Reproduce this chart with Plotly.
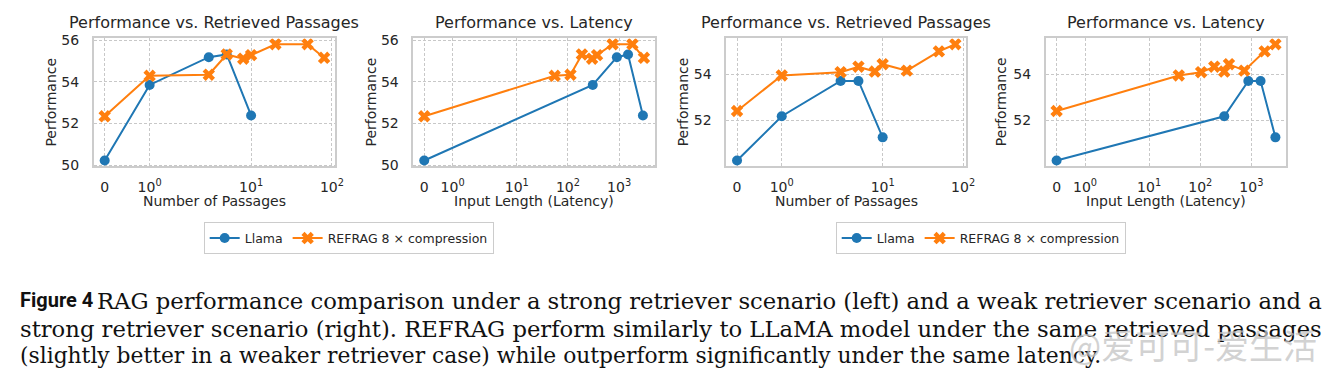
import math
import plotly.graph_objects as go

# ---------------- data ----------------
passages_llama = [0, 1, 3, 5, 10]
passages_refrag = [0, 1, 3, 5, 8, 10, 20, 50, 80]

strong_llama = [50.23, 53.85, 55.18, 55.31, 52.39]
strong_refrag = [52.35, 54.29, 54.34, 55.31, 55.11, 55.28, 55.80, 55.80, 55.15]
weak_llama = [50.25, 52.18, 53.72, 53.72, 51.26]
weak_refrag = [52.41, 53.96, 54.10, 54.34, 54.13, 54.45, 54.17, 55.01, 55.32]

strong_latency_llama = [0, 305, 903, 1493, 2918]
strong_latency_refrag = [0, 55, 112, 187, 296, 370, 745, 1820, 3055]
weak_latency_llama = [0, 295, 871, 1514, 2952]
weak_latency_refrag = [0, 38, 104, 188, 295, 364, 727, 1820, 2952]

passage_ticks = [0, 1, 10, 100]
latency_ticks = [0, 1, 10, 100, 1000]
tick_text = {0: "0", 1: "10<sup>0</sup>", 10: "10<sup>1</sup>", 100: "10<sup>2</sup>", 1000: "10<sup>3</sup>"}

titles = ["Performance vs. Retrieved Passages", "Performance vs. Latency",
          "Performance vs. Retrieved Passages", "Performance vs. Latency"]
xlabels = ["Number of Passages", "Input Length (Latency)",
           "Number of Passages", "Input Length (Latency)"]
series_names = ["Llama", "REFRAG 8 × compression"]

caption_head = "Figure 4"
caption_lines = [
    "RAG performance comparison under a strong retriever scenario (left) and a weak retriever scenario and a",
    "strong retriever scenario (right). REFRAG perform similarly to LLaMA model under the same retrieved passages",
    "(slightly better in a weaker retriever case) while outperform significantly under the same latency.",
]
watermark = "@爱可可-爱生活"

# ---------------- helpers ----------------
W, H = 1338, 382
OFF = 8  # page body margin
BLUE, ORANGE = "#1f77b4", "#ff7f0e"
TXT = "#262626"
SANS = "DejaVu Sans"


def symlog(v, lin=2.0, scale=1.0):
    adj = scale / (1 - 1 / 10)
    if v <= lin:
        return v * adj
    return lin * (adj + math.log10(v / lin))


def px(x):
    return (x - OFF) / W


def py(y):
    return 1 - (y - OFF) / H


x_dom_px = [(94.3, 337.3), (416, 659.3), (731, 972.7), (1052.7, 1295)]
y_dom_px = (33.3, 165.7)
ylab_x = [51, 373, 687, 1008]

panels = [
    (passages_llama, strong_llama, passages_refrag, strong_refrag, passage_ticks, [50, 52, 54, 56], "legend"),
    (strong_latency_llama, strong_llama, strong_latency_refrag, strong_refrag, latency_ticks, [50, 52, 54, 56], "legend"),
    (passages_llama, weak_llama, passages_refrag, weak_refrag, passage_ticks, [52, 54], "legend2"),
    (weak_latency_llama, weak_llama, weak_latency_refrag, weak_refrag, latency_ticks, [52, 54], "legend2"),
]

fig = go.Figure()
annotations = []

for i, (xl, yl, xr, yr, xt, yt, leg) in enumerate(panels):
    n = i + 1
    xa = "x" if n == 1 else f"x{n}"
    ya = "y" if n == 1 else f"y{n}"
    show = i in (0, 2)
    fig.add_trace(go.Scatter(
        x=[symlog(v) for v in xl], y=yl, xaxis=xa, yaxis=ya, mode="lines+markers",
        name=series_names[0], legend=leg, showlegend=show,
        line=dict(color=BLUE, width=2), marker=dict(symbol="circle", size=10, color=BLUE)))
    fig.add_trace(go.Scatter(
        x=[symlog(v) for v in xr], y=yr, xaxis=xa, yaxis=ya, mode="lines+markers",
        name=series_names[1], legend=leg, showlegend=show,
        line=dict(color=ORANGE, width=2), marker=dict(symbol="x", size=11, color=ORANGE)))

    tx = [symlog(v) for v in xl + xr]
    lo, hi = min(tx), max(tx)
    m = 0.05 * (hi - lo)
    xrange = [lo - m, hi + m]
    allv = yl + yr
    ylo, yhi = min(allv), max(allv)
    my = 0.05 * (yhi - ylo)
    yrange = [ylo - my, yhi + my]

    axis_common = dict(showgrid=True, gridcolor="#c8c8c8", griddash="3px,2px", gridwidth=0.8,
                       showline=True, mirror=True, linecolor="#cccccc", linewidth=1.5,
                       zeroline=False, ticks="outside", tickcolor="rgba(0,0,0,0)",
                       tickfont=dict(family=SANS, size=14, color=TXT))
    x0, x1 = x_dom_px[i]
    fig.update_layout(**{
        ("xaxis" if n == 1 else f"xaxis{n}"): dict(
            axis_common, domain=[px(x0), px(x1)], range=xrange, anchor=ya,
            tickmode="array", tickvals=[symlog(v) for v in xt],
            ticktext=[tick_text[v] for v in xt], ticklen=7),
        ("yaxis" if n == 1 else f"yaxis{n}"): dict(
            axis_common, domain=[py(y_dom_px[1]), py(y_dom_px[0])], range=yrange, anchor=xa,
            tickmode="array", tickvals=yt, ticktext=[str(v) for v in yt], ticklen=10),
    })

    cx = (x0 + x1) / 2
    annotations.append(dict(text=titles[i], x=px(cx), y=py(17), xref="paper", yref="paper",
                            xanchor="center", yanchor="middle", showarrow=False,
                            font=dict(family=SANS, size=16, color=TXT)))
    annotations.append(dict(text=xlabels[i], x=px(cx), y=py(202), xref="paper", yref="paper",
                            xanchor="center", yanchor="middle", showarrow=False,
                            font=dict(family=SANS, size=14, color=TXT)))
    annotations.append(dict(text="Performance", x=px(ylab_x[i]), y=py(99), xref="paper", yref="paper",
                            xanchor="center", yanchor="middle", showarrow=False, textangle=-90,
                            font=dict(family=SANS, size=14, color=TXT)))

# caption
annotations.append(dict(text="<b>" + caption_head + "</b>", x=px(18), y=py(304), xref="paper", yref="paper",
                        xanchor="left", yanchor="middle", showarrow=False,
                        font=dict(family="Roboto", size=20, color="#111111")))
cap_x = [96, 18, 18]
cap_y = [305, 334, 362]
cap_size = [22.7, 22.7, 21.8]
for t, cx_, cy_, fs in zip(caption_lines, cap_x, cap_y, cap_size):
    annotations.append(dict(text=t, x=px(cx_), y=py(cy_), xref="paper", yref="paper",
                            xanchor="left", yanchor="middle", showarrow=False,
                            font=dict(family="DejaVu Serif", size=fs, color="#111111")))
annotations.append(dict(text=watermark, x=px(1074), y=py(350), xref="paper", yref="paper",
                        xanchor="left", yanchor="middle", showarrow=False,
                        font=dict(family="Noto Sans CJK SC", size=34, color="rgba(195,195,195,0.75)")))

leg_common = dict(orientation="h", xanchor="center", yanchor="middle", bgcolor="white",
                  bordercolor="#cccccc", borderwidth=1, font=dict(family=SANS, size=12.5, color=TXT))
fig.update_layout(
    width=W, height=H, margin=dict(l=0, r=0, t=0, b=0),
    paper_bgcolor="white", plot_bgcolor="white",
    annotations=annotations,
    legend=dict(leg_common, x=px(351), y=py(240.3)),
    legend2=dict(leg_common, x=px(987.3), y=py(240.3)),
)

fig.write_html("out.html")
